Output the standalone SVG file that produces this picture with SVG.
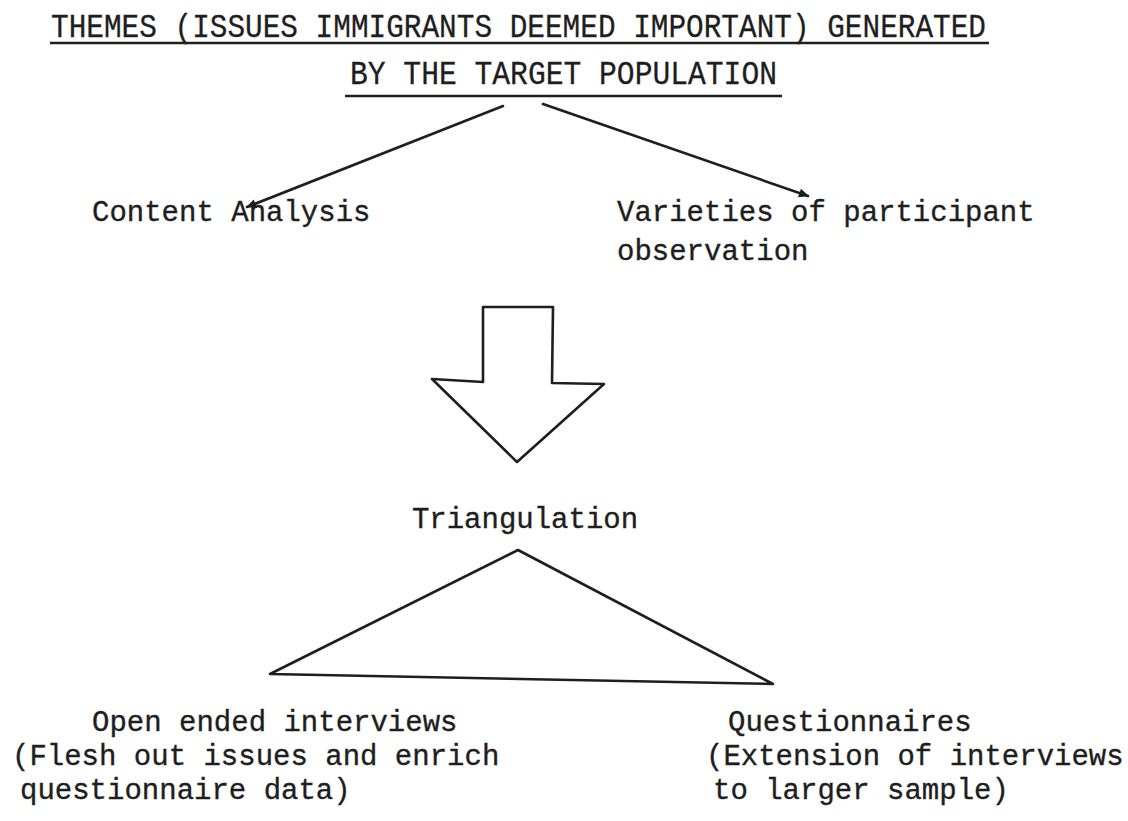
<svg xmlns="http://www.w3.org/2000/svg" width="1128" height="821" viewBox="0 0 1128 821">
  <style>
    .t { font-family: "Liberation Mono", "DejaVu Sans Mono", monospace; font-size: 29px; fill: #1e1e1e; stroke: #1e1e1e; stroke-width: 0.35; }
    .h { font-family: "Liberation Mono", "DejaVu Sans Mono", monospace; font-size: 33px; fill: #1e1e1e; stroke: #1e1e1e; stroke-width: 0.3; }
    .ln { stroke: #1e1e1e; stroke-width: 2.6; fill: none; stroke-linecap: round; stroke-linejoin: round; }
    .ul { stroke: #1e1e1e; stroke-width: 2.6; }
  </style>
  <defs>
    <marker id="ah" viewBox="0 0 10 10" refX="9" refY="5" markerWidth="14" markerHeight="10" markerUnits="userSpaceOnUse" orient="auto">
      <path d="M0,0.5 L10,5 L0,9.5 Z" fill="#1e1e1e"/>
    </marker>
  </defs>
  <rect width="1128" height="821" fill="#ffffff"/>

  <g id="title">
    <text class="h" x="51" y="37" textLength="935" lengthAdjust="spacingAndGlyphs">THEMES (ISSUES IMMIGRANTS DEEMED IMPORTANT) GENERATED</text>
    <line class="ul" x1="50" y1="43" x2="989" y2="43"/>
    <text class="h" x="350" y="84" textLength="427" lengthAdjust="spacingAndGlyphs">BY THE TARGET POPULATION</text>
    <line class="ul" x1="345" y1="96" x2="782" y2="96"/>
  </g>

  <g id="content-analysis">
    <text class="t" x="92" y="221">Content Analysis</text>
  </g>

  <g id="participant-observation">
    <text class="t" x="617" y="221">Varieties of participant</text>
    <text class="t" x="617" y="260">observation</text>
  </g>

  <g id="block-arrow">
    <polygon class="ln" points="483,307 553,307 552,383 604,384 517,462 432,379 483,382"/>
  </g>

  <g id="triangulation">
    <text class="t" x="525" y="528" text-anchor="middle">Triangulation</text>
    <polygon class="ln" points="518,550 773,684 270,674"/>
  </g>

  <g id="open-ended-interviews">
    <text class="t" x="92" y="731">Open ended interviews</text>
    <text class="t" x="12" y="765">(Flesh out issues and enrich</text>
    <text class="t" x="20" y="799">questionnaire data)</text>
  </g>

  <g id="questionnaires">
    <text class="t" x="728" y="731">Questionnaires</text>
    <text class="t" x="706" y="765">(Extension of interviews</text>
    <text class="t" x="713" y="799">to larger sample)</text>
  </g>

  <g id="connectors">
    <line class="ln" x1="503" y1="106" x2="247" y2="207" marker-end="url(#ah)"/>
    <line class="ln" x1="543" y1="104" x2="808" y2="196" marker-end="url(#ah)"/>
  </g>
</svg>
